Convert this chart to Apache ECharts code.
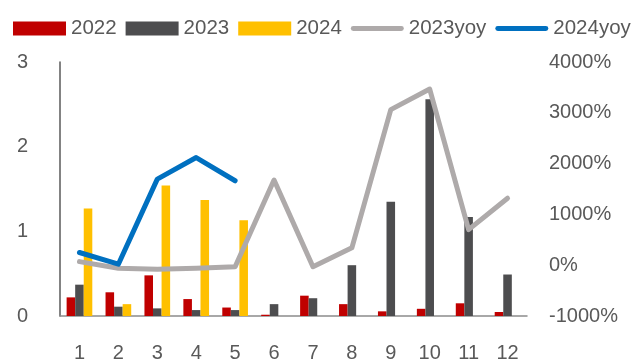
<!DOCTYPE html>
<html>
<head>
<meta charset="utf-8">
<script src="https://cdn.jsdelivr.net/npm/echarts@6/dist/echarts.min.js"></script>
<style>html,body{margin:0;padding:0;background:#fff}#c{width:640px;height:363px}</style>
</head>
<body>
<div id="c"></div>
<script>
var months = ['1','2','3','4','5','6','7','8','9','10','11','12'];
var v2022 = [0.22,0.28,0.48,0.20,0.10,0.015,0.24,0.14,0.055,0.085,0.15,0.047];
var v2023 = [0.37,0.11,0.09,0.07,0.07,0.14,0.21,0.60,1.35,2.56,1.17,0.49];
var v2024 = [1.27,0.14,1.54,1.37,1.13,null,null,null,null,null,null,null];
var yoy2023 = [70,-60,-80,-60,-30,1676,-30,342,3062,3467,700,1318];
var yoy2024 = [250,20,1695,2119,1662,null,null,null,null,null,null,null];
var leftTicks = [0,1,2,3];
var rightTicks = [-1000,0,1000,2000,3000,4000];

var font = 'Liberation Sans';
var txt = '#595959';
var lineIcon = 'path://M2,0 L51,0 A2.5,2.5 0 0 1 51,5 L2,5 A2.5,2.5 0 0 1 2,0 Z';
var chart = echarts.init(document.getElementById('c'), null, {renderer:'canvas'});
chart.setOption({
  animation:false,
  textStyle:{fontFamily:font},
  legend:{
    left:8, top:13, width:640, itemWidth:53, itemHeight:14, itemGap:9,
    textStyle:{fontFamily:font,fontSize:20.5,color:txt},
    data:[{name:'2022',icon:'rect'},{name:'2023',icon:'rect'},{name:'2024',icon:'rect'},
          {name:'2023yoy',icon:lineIcon},{name:'2024yoy',icon:lineIcon}]
  },
  grid:{left:60,right:113,top:62,bottom:45,containLabel:false},
  xAxis:{
    type:'category', data:months,
    axisLine:{show:true,lineStyle:{color:'#8c8c8c',width:1.5}},
    axisTick:{show:false},
    axisLabel:{color:txt,fontSize:20,fontFamily:font,margin:27}
  },
  yAxis:[{
    type:'value', min:leftTicks[0], max:leftTicks[leftTicks.length-1], interval:1,
    axisLine:{show:true,lineStyle:{color:'#5a5a5a',width:1.5}},
    axisTick:{show:false}, splitLine:{show:false},
    axisLabel:{color:txt,fontSize:20,fontFamily:font,margin:32}
  },{
    type:'value', min:rightTicks[0], max:rightTicks[rightTicks.length-1], interval:1000,
    axisLine:{show:false}, axisTick:{show:false}, splitLine:{show:false},
    axisLabel:{color:txt,fontSize:20,fontFamily:font,margin:22,formatter:function(v){return v+'%';}}
  }],
  series:[
    {name:'2022',type:'bar',data:v2022,itemStyle:{color:'#C00000'},barGap:'0%',barCategoryGap:'34%'},
    {name:'2023',type:'bar',data:v2023,itemStyle:{color:'#4D4D4F'},barGap:'0%',barCategoryGap:'34%'},
    {name:'2024',type:'bar',data:v2024,itemStyle:{color:'#FFC000'},barGap:'0%',barCategoryGap:'34%'},
    {name:'2023yoy',type:'line',yAxisIndex:1,data:yoy2023,symbol:'none',lineStyle:{color:'#AEAAAA',width:5,join:'round',cap:'round'},itemStyle:{color:'#AEAAAA'}},
    {name:'2024yoy',type:'line',yAxisIndex:1,data:yoy2024,symbol:'none',lineStyle:{color:'#0070C0',width:5,join:'round',cap:'round'},itemStyle:{color:'#0070C0'}}
  ]
});
</script>
</body>
</html>
